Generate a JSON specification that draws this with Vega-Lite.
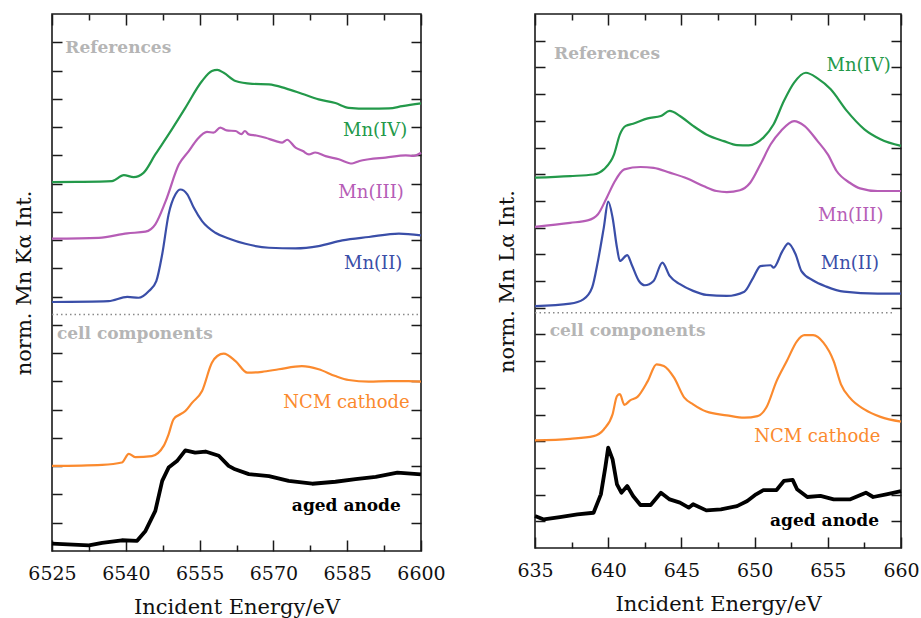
{
  "$schema": "https://vega.github.io/schema/vega-lite/v6.json",
  "background": "white",
  "padding": {"left": 12, "top": 12, "right": 5, "bottom": 5},
  "spacing": 49,
  "config": {
    "view": {"stroke": "#1a1a1a", "strokeWidth": 1.6},
    "font": "DejaVu Serif",
    "axis": {"domain": false, "grid": false, "tickColor": "#1a1a1a", "tickWidth": 1.5, "labelFont": "DejaVu Serif", "titleFont": "DejaVu Serif", "labelFontSize": 19, "titleFontSize": 21, "titleFontWeight": "normal", "labelColor": "#111111", "titleColor": "#111111", "labelFlush": false, "labelOverlap": false}
  },
  "datasets": {
    "ka": [
      {"s":"IV","e":6525,"v":13.05},{"s":"IV","e":6530,"v":13.06},{"s":"IV","e":6537.2,"v":13.09},{"s":"IV","e":6539.6,"v":13.3},{"s":"IV","e":6541.6,"v":13.23},{"s":"IV","e":6543.6,"v":13.38},{"s":"IV","e":6546.0,"v":14.03},{"s":"IV","e":6548.7,"v":14.74},{"s":"IV","e":6552.1,"v":15.68},{"s":"IV","e":6555.5,"v":16.63},{"s":"IV","e":6557.5,"v":16.98},{"s":"IV","e":6558.6,"v":17.02},{"s":"IV","e":6559.9,"v":16.92},{"s":"IV","e":6562.3,"v":16.63},{"s":"IV","e":6565.7,"v":16.53},{"s":"IV","e":6569.1,"v":16.51},{"s":"IV","e":6572.5,"v":16.37},{"s":"IV","e":6575.8,"v":16.18},{"s":"IV","e":6579.2,"v":15.98},{"s":"IV","e":6582.6,"v":15.85},{"s":"IV","e":6585.3,"v":15.68},{"s":"IV","e":6589.4,"v":15.65},{"s":"IV","e":6593.5,"v":15.66},{"s":"IV","e":6596.2,"v":15.74},{"s":"IV","e":6600,"v":15.84},
      {"s":"III","e":6525,"v":11.05},{"s":"III","e":6534.5,"v":11.08},{"s":"III","e":6540.3,"v":11.24},{"s":"III","e":6544.0,"v":11.3},{"s":"III","e":6546.0,"v":11.56},{"s":"III","e":6548.1,"v":12.38},{"s":"III","e":6550.8,"v":13.68},{"s":"III","e":6552.8,"v":14.15},{"s":"III","e":6554.5,"v":14.56},{"s":"III","e":6556.5,"v":14.83},{"s":"III","e":6557.8,"v":14.8},{"s":"III","e":6559.2,"v":14.98},{"s":"III","e":6560.5,"v":14.88},{"s":"III","e":6562.3,"v":14.86},{"s":"III","e":6563.5,"v":14.75},{"s":"III","e":6564.2,"v":14.86},{"s":"III","e":6565.0,"v":14.74},{"s":"III","e":6566.5,"v":14.7},{"s":"III","e":6568.4,"v":14.62},{"s":"III","e":6570.5,"v":14.5},{"s":"III","e":6571.8,"v":14.45},{"s":"III","e":6572.8,"v":14.55},{"s":"III","e":6574.5,"v":14.27},{"s":"III","e":6576.0,"v":14.15},{"s":"III","e":6577.2,"v":14.03},{"s":"III","e":6578.5,"v":14.1},{"s":"III","e":6580.6,"v":13.97},{"s":"III","e":6583.3,"v":13.86},{"s":"III","e":6586.0,"v":13.71},{"s":"III","e":6587.5,"v":13.8},{"s":"III","e":6589.4,"v":13.86},{"s":"III","e":6592.8,"v":13.92},{"s":"III","e":6596.9,"v":14.0},{"s":"III","e":6598.5,"v":13.98},{"s":"III","e":6600,"v":14.09},
      {"s":"II","e":6525,"v":8.81},{"s":"II","e":6536.5,"v":8.84},{"s":"II","e":6540.3,"v":8.99},{"s":"II","e":6542.6,"v":8.96},{"s":"II","e":6544.7,"v":9.2},{"s":"II","e":6546.2,"v":9.55},{"s":"II","e":6547.4,"v":10.5},{"s":"II","e":6548.7,"v":11.91},{"s":"II","e":6550.1,"v":12.62},{"s":"II","e":6551.1,"v":12.79},{"s":"II","e":6552.5,"v":12.62},{"s":"II","e":6553.8,"v":12.15},{"s":"II","e":6555.5,"v":11.67},{"s":"II","e":6558.2,"v":11.26},{"s":"II","e":6560.9,"v":11.06},{"s":"II","e":6564.3,"v":10.87},{"s":"II","e":6569.1,"v":10.73},{"s":"II","e":6574.5,"v":10.71},{"s":"II","e":6579.2,"v":10.79},{"s":"II","e":6584.0,"v":10.99},{"s":"II","e":6589.4,"v":11.11},{"s":"II","e":6595.5,"v":11.23},{"s":"II","e":6600,"v":11.17},
      {"s":"NCM","e":6525,"v":3.01},{"s":"NCM","e":6535.2,"v":3.05},{"s":"NCM","e":6539.2,"v":3.13},{"s":"NCM","e":6540.6,"v":3.44},{"s":"NCM","e":6541.9,"v":3.32},{"s":"NCM","e":6545.3,"v":3.36},{"s":"NCM","e":6547.7,"v":3.72},{"s":"NCM","e":6548.7,"v":4.13},{"s":"NCM","e":6549.7,"v":4.66},{"s":"NCM","e":6552.1,"v":4.95},{"s":"NCM","e":6553.5,"v":5.25},{"s":"NCM","e":6555.5,"v":5.66},{"s":"NCM","e":6557.5,"v":6.66},{"s":"NCM","e":6558.6,"v":6.9},{"s":"NCM","e":6559.9,"v":6.98},{"s":"NCM","e":6562.3,"v":6.72},{"s":"NCM","e":6564.7,"v":6.31},{"s":"NCM","e":6567.7,"v":6.34},{"s":"NCM","e":6571.1,"v":6.43},{"s":"NCM","e":6575.8,"v":6.54},{"s":"NCM","e":6579.2,"v":6.43},{"s":"NCM","e":6582.6,"v":6.19},{"s":"NCM","e":6585.3,"v":6.05},{"s":"NCM","e":6589.4,"v":5.99},{"s":"NCM","e":6593.5,"v":6.01},{"s":"NCM","e":6597.5,"v":6.01},{"s":"NCM","e":6600,"v":5.99},
      {"s":"anode","e":6525,"v":0.26},{"s":"anode","e":6532.5,"v":0.2},{"s":"anode","e":6535.2,"v":0.29},{"s":"anode","e":6539.2,"v":0.38},{"s":"anode","e":6542.3,"v":0.36},{"s":"anode","e":6544.0,"v":0.71},{"s":"anode","e":6546.0,"v":1.42},{"s":"anode","e":6547.4,"v":2.48},{"s":"anode","e":6548.7,"v":2.95},{"s":"anode","e":6550.4,"v":3.18},{"s":"anode","e":6552.1,"v":3.56},{"s":"anode","e":6554.1,"v":3.48},{"s":"anode","e":6556.2,"v":3.52},{"s":"anode","e":6558.9,"v":3.37},{"s":"anode","e":6560.9,"v":3.01},{"s":"anode","e":6562.2,"v":2.89},{"s":"anode","e":6565.0,"v":2.72},{"s":"anode","e":6569.1,"v":2.65},{"s":"anode","e":6573.1,"v":2.48},{"s":"anode","e":6577.9,"v":2.38},{"s":"anode","e":6582.6,"v":2.45},{"s":"anode","e":6586.7,"v":2.54},{"s":"anode","e":6590.8,"v":2.62},{"s":"anode","e":6595.2,"v":2.77},{"s":"anode","e":6600,"v":2.71}
    ],
    "la": [
      {"s":"IV","e":635,"v":13.87},{"s":"IV","e":637.4,"v":13.93},{"s":"IV","e":639.0,"v":13.99},{"s":"IV","e":639.7,"v":14.18},{"s":"IV","e":640.4,"v":14.74},{"s":"IV","e":640.8,"v":15.49},{"s":"IV","e":641.2,"v":15.81},{"s":"IV","e":641.7,"v":15.89},{"s":"IV","e":642.7,"v":16.09},{"s":"IV","e":643.6,"v":16.18},{"s":"IV","e":644.2,"v":16.37},{"s":"IV","e":644.9,"v":16.18},{"s":"IV","e":645.8,"v":15.81},{"s":"IV","e":646.7,"v":15.49},{"s":"IV","e":647.9,"v":15.24},{"s":"IV","e":648.8,"v":15.09},{"s":"IV","e":649.6,"v":15.08},{"s":"IV","e":650.6,"v":15.37},{"s":"IV","e":651.3,"v":15.87},{"s":"IV","e":652.0,"v":16.74},{"s":"IV","e":652.7,"v":17.43},{"s":"IV","e":653.5,"v":17.8},{"s":"IV","e":654.3,"v":17.59},{"s":"IV","e":655.2,"v":17.18},{"s":"IV","e":656.3,"v":16.37},{"s":"IV","e":657.5,"v":15.68},{"s":"IV","e":658.6,"v":15.31},{"s":"IV","e":660,"v":15.06},
      {"s":"III","e":635,"v":12.03},{"s":"III","e":637.4,"v":12.18},{"s":"III","e":638.6,"v":12.27},{"s":"III","e":639.3,"v":12.5},{"s":"III","e":639.9,"v":13.12},{"s":"III","e":640.4,"v":13.68},{"s":"III","e":641.1,"v":14.18},{"s":"III","e":642.2,"v":14.27},{"s":"III","e":643.1,"v":14.24},{"s":"III","e":644.2,"v":14.06},{"s":"III","e":645.4,"v":13.84},{"s":"III","e":646.5,"v":13.56},{"s":"III","e":647.4,"v":13.37},{"s":"III","e":648.1,"v":13.33},{"s":"III","e":649.0,"v":13.4},{"s":"III","e":649.7,"v":13.68},{"s":"III","e":650.4,"v":14.37},{"s":"III","e":651.1,"v":15.12},{"s":"III","e":651.8,"v":15.62},{"s":"III","e":652.7,"v":15.99},{"s":"III","e":653.4,"v":15.81},{"s":"III","e":654.3,"v":15.24},{"s":"III","e":655.0,"v":14.74},{"s":"III","e":655.6,"v":14.12},{"s":"III","e":656.5,"v":13.68},{"s":"III","e":657.2,"v":13.47},{"s":"III","e":658.4,"v":13.37},{"s":"III","e":660,"v":13.37},
      {"s":"II","e":635,"v":9.06},{"s":"II","e":637.4,"v":9.15},{"s":"II","e":638.3,"v":9.31},{"s":"II","e":638.9,"v":9.75},{"s":"II","e":639.3,"v":10.75},{"s":"II","e":639.7,"v":12.0},{"s":"II","e":640.0,"v":12.97},{"s":"II","e":640.3,"v":12.37},{"s":"II","e":640.6,"v":11.25},{"s":"II","e":640.8,"v":10.75},{"s":"II","e":641.3,"v":10.97},{"s":"II","e":641.6,"v":10.62},{"s":"II","e":642.1,"v":10.0},{"s":"II","e":642.5,"v":9.84},{"s":"II","e":643.1,"v":10.0},{"s":"II","e":643.7,"v":10.69},{"s":"II","e":644.2,"v":10.19},{"s":"II","e":644.9,"v":9.88},{"s":"II","e":645.8,"v":9.63},{"s":"II","e":646.7,"v":9.48},{"s":"II","e":648.1,"v":9.44},{"s":"II","e":649.3,"v":9.6},{"s":"II","e":649.9,"v":10.12},{"s":"II","e":650.4,"v":10.56},{"s":"II","e":651.1,"v":10.59},{"s":"II","e":651.3,"v":10.5},{"s":"II","e":651.9,"v":11.12},{"s":"II","e":652.3,"v":11.41},{"s":"II","e":652.8,"v":11.0},{"s":"II","e":653.2,"v":10.37},{"s":"II","e":654.0,"v":10.02},{"s":"II","e":654.9,"v":9.79},{"s":"II","e":656.1,"v":9.6},{"s":"II","e":658.4,"v":9.53},{"s":"II","e":660,"v":9.53},
      {"s":"NCM","e":635,"v":4.03},{"s":"NCM","e":637.4,"v":4.09},{"s":"NCM","e":639.0,"v":4.19},{"s":"NCM","e":639.7,"v":4.44},{"s":"NCM","e":640.3,"v":5.01},{"s":"NCM","e":640.6,"v":5.69},{"s":"NCM","e":640.8,"v":5.76},{"s":"NCM","e":641.1,"v":5.36},{"s":"NCM","e":641.5,"v":5.53},{"s":"NCM","e":642.0,"v":5.66},{"s":"NCM","e":642.7,"v":6.25},{"s":"NCM","e":643.3,"v":6.88},{"s":"NCM","e":643.8,"v":6.82},{"s":"NCM","e":644.5,"v":6.38},{"s":"NCM","e":645.2,"v":5.63},{"s":"NCM","e":645.8,"v":5.38},{"s":"NCM","e":646.7,"v":5.11},{"s":"NCM","e":648.1,"v":4.97},{"s":"NCM","e":649.3,"v":4.88},{"s":"NCM","e":650.2,"v":4.94},{"s":"NCM","e":650.8,"v":5.26},{"s":"NCM","e":651.5,"v":6.25},{"s":"NCM","e":652.2,"v":7.0},{"s":"NCM","e":652.9,"v":7.75},{"s":"NCM","e":653.4,"v":7.97},{"s":"NCM","e":654.0,"v":7.97},{"s":"NCM","e":654.7,"v":7.69},{"s":"NCM","e":655.4,"v":7.0},{"s":"NCM","e":655.9,"v":6.13},{"s":"NCM","e":656.5,"v":5.63},{"s":"NCM","e":657.5,"v":5.19},{"s":"NCM","e":658.6,"v":4.91},{"s":"NCM","e":660,"v":4.73},
      {"s":"anode","e":635,"v":1.2},{"s":"anode","e":635.6,"v":1.07},{"s":"anode","e":636.7,"v":1.16},{"s":"anode","e":637.9,"v":1.26},{"s":"anode","e":639.0,"v":1.32},{"s":"anode","e":639.5,"v":2.01},{"s":"anode","e":639.8,"v":3.01},{"s":"anode","e":640.0,"v":3.76},{"s":"anode","e":640.3,"v":3.32},{"s":"anode","e":640.6,"v":2.38},{"s":"anode","e":640.9,"v":2.07},{"s":"anode","e":641.3,"v":2.32},{"s":"anode","e":641.7,"v":1.95},{"s":"anode","e":642.2,"v":1.61},{"s":"anode","e":642.9,"v":1.61},{"s":"anode","e":643.6,"v":2.07},{"s":"anode","e":644.2,"v":1.82},{"s":"anode","e":644.9,"v":1.7},{"s":"anode","e":645.5,"v":1.51},{"s":"anode","e":645.8,"v":1.64},{"s":"anode","e":646.7,"v":1.41},{"s":"anode","e":647.7,"v":1.45},{"s":"anode","e":648.8,"v":1.57},{"s":"anode","e":649.5,"v":1.76},{"s":"anode","e":650.1,"v":2.01},{"s":"anode","e":650.6,"v":2.17},{"s":"anode","e":651.5,"v":2.17},{"s":"anode","e":652.0,"v":2.51},{"s":"anode","e":652.6,"v":2.55},{"s":"anode","e":652.9,"v":2.2},{"s":"anode","e":653.6,"v":1.91},{"s":"anode","e":654.5,"v":1.95},{"s":"anode","e":655.4,"v":1.82},{"s":"anode","e":656.5,"v":1.82},{"s":"anode","e":657.6,"v":2.07},{"s":"anode","e":658.1,"v":1.91},{"s":"anode","e":659.0,"v":2.01},{"s":"anode","e":660,"v":2.13}
    ],
    "kaSep": [{"xa": 6525, "xb": 6600, "y": 8.37}],
    "laSep": [{"xa": 635, "xb": 659.5, "y": 8.81}],
    "kaHead": [{"e": 6527.7, "v": 17.8, "t": "References"}, {"e": 6526.0, "v": 7.67, "t": "cell components"}],
    "laHead": [{"e": 636.3, "v": 18.49, "t": "References"}, {"e": 636.0, "v": 8.13, "t": "cell components"}],
    "kaLab": [{"e": 6597.2, "v": 14.86, "t": "Mn(IV)", "s": "IV"}, {"e": 6596.5, "v": 12.68, "t": "Mn(III)", "s": "III"}, {"e": 6596.2, "v": 10.17, "t": "Mn(II)", "s": "II"}, {"e": 6597.7, "v": 5.25, "t": "NCM cathode", "s": "NCM"}],
    "laLab": [{"e": 659.3, "v": 18.05, "t": "Mn(IV)", "s": "IV"}, {"e": 658.8, "v": 12.43, "t": "Mn(III)", "s": "III"}, {"e": 658.5, "v": 10.62, "t": "Mn(II)", "s": "II"}, {"e": 658.6, "v": 4.16, "t": "NCM cathode", "s": "NCM"}],
    "kaAn": [{"e": 6595.9, "v": 1.59, "t": "aged anode"}],
    "laAn": [{"e": 658.5, "v": 1.01, "t": "aged anode"}]
  },
  "hconcat": [
    {
      "width": 369,
      "height": 537,
      "resolve": {"axis": {"x": "independent", "y": "independent"}},
      "layer": [
        {
          "data": {"name": "ka"},
          "transform": [{"filter": "datum.s !== 'anode'"}],
          "mark": {"type": "line", "strokeJoin": "round", "strokeWidth": 2.2, "interpolate": "monotone"},
          "encoding": {
            "x": {"field": "e", "type": "quantitative", "scale": {"domain": [6525, 6600], "nice": false, "zero": false},
              "axis": {"orient": "bottom", "title": "Incident Energy/eV", "format": "d", "values": [6525, 6532.5, 6540, 6547.5, 6555, 6562.5, 6570, 6577.5, 6585, 6592.5, 6600],
                "labelExpr": "datum.value % 15 === 0 ? datum.label : ''",
                "tickSize": {"condition": {"test": "datum.value % 15 === 0", "value": -11}, "value": -6},
                "labelPadding": 24, "titlePadding": 8}},
            "y": {"field": "v", "type": "quantitative", "scale": {"domain": [0, 19], "nice": false, "zero": false},
              "axis": {"orient": "left", "title": "norm. Mn Kα Int.", "values": [1,2,3,4,5,6,7,8,9,10,11,12,13,14,15,16,17,18], "labels": false, "tickSize": -10, "titlePadding": 17}},
            "color": {"field": "s", "type": "nominal", "scale": {"domain": ["IV", "III", "II", "NCM", "anode"], "range": ["#23994a", "#b65db6", "#3a4ea8", "#fb8a2e", "#000000"]}, "legend": null}
          }
        },
        {
          "data": {"name": "ka"},
          "transform": [{"filter": "datum.s === 'anode'"}],
          "mark": {"type": "line", "strokeJoin": "round", "strokeWidth": 3.8, "color": "#000000"},
          "encoding": {
            "x": {"field": "e", "type": "quantitative", "axis": null},
            "y": {"field": "v", "type": "quantitative", "axis": null}
          }
        },
        {
          "data": {"name": "kaSep"},
          "mark": {"type": "rule", "color": "#8a8a8a", "strokeWidth": 1.5, "strokeDash": [1.5, 3]},
          "encoding": {
            "x": {"field": "xa", "type": "quantitative", "scale": {"domain": [6525, 6600], "nice": false, "zero": false},
              "axis": {"orient": "top", "title": null, "values": [6525, 6532.5, 6540, 6547.5, 6555, 6562.5, 6570, 6577.5, 6585, 6592.5, 6600], "labels": false,
                "tickSize": {"condition": {"test": "datum.value % 15 === 0", "value": -11}, "value": -6}}},
            "x2": {"field": "xb"},
            "y": {"field": "y", "type": "quantitative", "scale": {"domain": [0, 19], "nice": false, "zero": false},
              "axis": {"orient": "right", "title": null, "values": [1,2,3,4,5,6,7,8,9,10,11,12,13,14,15,16,17,18], "labels": false, "tickSize": -10}}
          }
        },
        {
          "data": {"name": "kaHead"},
          "mark": {"type": "text", "align": "left", "baseline": "middle", "font": "DejaVu Serif", "fontSize": 17, "fontWeight": "bold", "color": "#b5b5b5"},
          "encoding": {
            "x": {"field": "e", "type": "quantitative", "axis": null},
            "y": {"field": "v", "type": "quantitative", "axis": null},
            "text": {"field": "t"}
          }
        },
        {
          "data": {"name": "kaLab"},
          "mark": {"type": "text", "align": "right", "baseline": "middle", "font": "DejaVu Serif", "fontSize": 18},
          "encoding": {
            "x": {"field": "e", "type": "quantitative", "axis": null},
            "y": {"field": "v", "type": "quantitative", "axis": null},
            "text": {"field": "t"},
            "color": {"field": "s", "type": "nominal", "legend": null}
          }
        },
        {
          "data": {"name": "kaAn"},
          "mark": {"type": "text", "align": "right", "baseline": "middle", "font": "DejaVu Serif", "fontSize": 17, "fontWeight": "bold", "color": "#000000"},
          "encoding": {
            "x": {"field": "e", "type": "quantitative", "axis": null},
            "y": {"field": "v", "type": "quantitative", "axis": null},
            "text": {"field": "t"}
          }
        }
      ]
    },
    {
      "width": 366,
      "height": 534,
      "resolve": {"axis": {"x": "independent", "y": "independent"}},
      "layer": [
        {
          "data": {"name": "la"},
          "transform": [{"filter": "datum.s !== 'anode'"}],
          "mark": {"type": "line", "strokeJoin": "round", "strokeWidth": 2.2, "interpolate": "monotone"},
          "encoding": {
            "x": {"field": "e", "type": "quantitative", "scale": {"domain": [635, 660], "nice": false, "zero": false},
              "axis": {"orient": "bottom", "title": "Incident Energy/eV", "format": "d", "values": [635, 637.5, 640, 642.5, 645, 647.5, 650, 652.5, 655, 657.5, 660],
                "labelExpr": "datum.value % 5 === 0 ? datum.label : ''",
                "tickSize": {"condition": {"test": "datum.value % 5 === 0", "value": -11}, "value": -6},
                "labelPadding": 24, "titlePadding": 8}},
            "y": {"field": "v", "type": "quantitative", "scale": {"domain": [0, 20], "nice": false, "zero": false},
              "axis": {"orient": "left", "title": "norm. Mn Lα Int.", "values": [1,2,3,4,5,6,7,8,9,10,11,12,13,14,15,16,17,18,19], "labels": false, "tickSize": -10, "titlePadding": 17}},
            "color": {"field": "s", "type": "nominal", "scale": {"domain": ["IV", "III", "II", "NCM", "anode"], "range": ["#23994a", "#b65db6", "#3a4ea8", "#fb8a2e", "#000000"]}, "legend": null}
          }
        },
        {
          "data": {"name": "la"},
          "transform": [{"filter": "datum.s === 'anode'"}],
          "mark": {"type": "line", "strokeJoin": "round", "strokeWidth": 3.8, "color": "#000000"},
          "encoding": {
            "x": {"field": "e", "type": "quantitative", "axis": null},
            "y": {"field": "v", "type": "quantitative", "axis": null}
          }
        },
        {
          "data": {"name": "laSep"},
          "mark": {"type": "rule", "color": "#8a8a8a", "strokeWidth": 1.5, "strokeDash": [1.5, 3]},
          "encoding": {
            "x": {"field": "xa", "type": "quantitative", "scale": {"domain": [635, 660], "nice": false, "zero": false},
              "axis": {"orient": "top", "title": null, "values": [635, 637.5, 640, 642.5, 645, 647.5, 650, 652.5, 655, 657.5, 660], "labels": false,
                "tickSize": {"condition": {"test": "datum.value % 5 === 0", "value": -11}, "value": -6}}},
            "x2": {"field": "xb"},
            "y": {"field": "y", "type": "quantitative", "scale": {"domain": [0, 20], "nice": false, "zero": false},
              "axis": {"orient": "right", "title": null, "values": [1,2,3,4,5,6,7,8,9,10,11,12,13,14,15,16,17,18,19], "labels": false, "tickSize": -10}}
          }
        },
        {
          "data": {"name": "laHead"},
          "mark": {"type": "text", "align": "left", "baseline": "middle", "font": "DejaVu Serif", "fontSize": 17, "fontWeight": "bold", "color": "#b5b5b5"},
          "encoding": {
            "x": {"field": "e", "type": "quantitative", "axis": null},
            "y": {"field": "v", "type": "quantitative", "axis": null},
            "text": {"field": "t"}
          }
        },
        {
          "data": {"name": "laLab"},
          "mark": {"type": "text", "align": "right", "baseline": "middle", "font": "DejaVu Serif", "fontSize": 18},
          "encoding": {
            "x": {"field": "e", "type": "quantitative", "axis": null},
            "y": {"field": "v", "type": "quantitative", "axis": null},
            "text": {"field": "t"},
            "color": {"field": "s", "type": "nominal", "legend": null}
          }
        },
        {
          "data": {"name": "laAn"},
          "mark": {"type": "text", "align": "right", "baseline": "middle", "font": "DejaVu Serif", "fontSize": 17, "fontWeight": "bold", "color": "#000000"},
          "encoding": {
            "x": {"field": "e", "type": "quantitative", "axis": null},
            "y": {"field": "v", "type": "quantitative", "axis": null},
            "text": {"field": "t"}
          }
        }
      ]
    }
  ]
}
